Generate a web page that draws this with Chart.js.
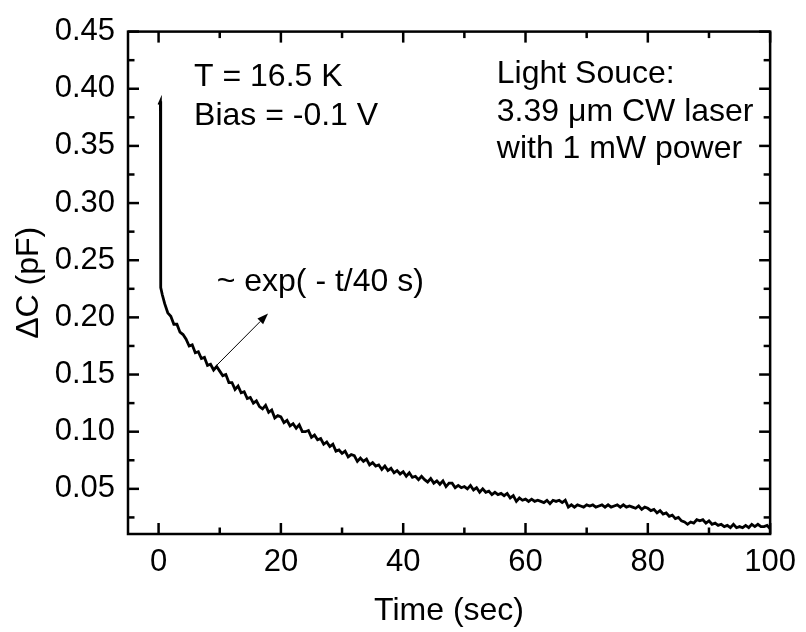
<!DOCTYPE html>
<html>
<head>
<meta charset="utf-8">
<script src="https://cdn.jsdelivr.net/npm/chart.js@4.4.1/dist/chart.umd.min.js"></script>
<style>
  body { margin: 0; background: #fff; }
  #wrap { width: 806px; height: 632px; }
</style>
</head>
<body>
<div id="wrap"><canvas id="myChart" width="806" height="632"></canvas></div>
<script>
const timeSec = [
  0.05, 0.3, 0.35, 0.6,
  1, 1.5, 2, 2.5, 3, 3.5, 4, 4.5, 5, 5.5,
  6, 6.5, 7, 7.5, 8, 8.5, 9, 9.5, 10, 10.5,
  11, 11.5, 12, 12.5, 13, 13.5, 14, 14.5, 15, 15.5,
  16, 16.5, 17, 17.5, 18, 18.5, 19, 19.5, 20, 20.5,
  21, 21.5, 22, 22.5, 23, 23.5, 24, 24.5, 25, 25.5,
  26, 26.5, 27, 27.5, 28, 28.5, 29, 29.5, 30, 30.5,
  31, 31.5, 32, 32.5, 33, 33.5, 34, 34.5, 35, 35.5,
  36, 36.5, 37, 37.5, 38, 38.5, 39, 39.5, 40, 40.5,
  41, 41.5, 42, 42.5, 43, 43.5, 44, 44.5, 45, 45.5,
  46, 46.5, 47, 47.5, 48, 48.5, 49, 49.5, 50, 50.5,
  51, 51.5, 52, 52.5, 53, 53.5, 54, 54.5, 55, 55.5,
  56, 56.5, 57, 57.5, 58, 58.5, 59, 59.5, 60, 60.5,
  61, 61.5, 62, 62.5, 63, 63.5, 64, 64.5, 65, 65.5,
  66, 66.5, 67, 67.5, 68, 68.5, 69, 69.5, 70, 70.5,
  71, 71.5, 72, 72.5, 73, 73.5, 74, 74.5, 75, 75.5,
  76, 76.5, 77, 77.5, 78, 78.5, 79, 79.5, 80, 80.5,
  81, 81.5, 82, 82.5, 83, 83.5, 84, 84.5, 85, 85.5,
  86, 86.5, 87, 87.5, 88, 88.5, 89, 89.5, 90, 90.5,
  91, 91.5, 92, 92.5, 93, 93.5, 94, 94.5, 95, 95.5,
  96, 96.5, 97, 97.5, 98, 98.5, 99, 99.5, 100
];

const deltaC = [
  0.386, 0.389, 0.226, 0.220,
  0.212, 0.204, 0.201, 0.194, 0.194, 0.187, 0.185, 0.181, 0.175, 0.176,
  0.169, 0.170, 0.164, 0.165, 0.158, 0.159, 0.154, 0.157, 0.153, 0.149,
  0.150, 0.143, 0.143, 0.137, 0.140, 0.134, 0.135, 0.129, 0.130, 0.125,
  0.127, 0.122, 0.120, 0.123, 0.117, 0.119, 0.112, 0.114, 0.113, 0.108,
  0.110, 0.105, 0.107, 0.103, 0.106, 0.100, 0.100, 0.101, 0.095, 0.097,
  0.093, 0.094, 0.089, 0.091, 0.087, 0.089, 0.083, 0.084, 0.081, 0.083,
  0.078, 0.080, 0.079, 0.074, 0.077, 0.074, 0.076, 0.071, 0.073, 0.070,
  0.071, 0.067, 0.070, 0.066, 0.068, 0.064, 0.066, 0.063, 0.065, 0.061,
  0.064, 0.060, 0.061, 0.058, 0.061, 0.058, 0.056, 0.059, 0.055, 0.057,
  0.054, 0.057, 0.052, 0.055, 0.055, 0.051, 0.053, 0.051, 0.052, 0.050,
  0.053, 0.049, 0.051, 0.047, 0.050, 0.047, 0.048, 0.045, 0.047, 0.045,
  0.046, 0.044, 0.046, 0.042, 0.044, 0.039, 0.042, 0.040, 0.041, 0.039,
  0.041, 0.039, 0.040, 0.039, 0.038, 0.040, 0.037, 0.040, 0.039, 0.040,
  0.038, 0.040, 0.034, 0.036, 0.034, 0.036, 0.035, 0.034, 0.036, 0.035,
  0.036, 0.034, 0.035, 0.036, 0.034, 0.036, 0.034, 0.035, 0.036, 0.034,
  0.036, 0.034, 0.035, 0.034, 0.033, 0.035, 0.032, 0.034, 0.033, 0.031,
  0.032, 0.029, 0.031, 0.028, 0.029, 0.026, 0.027, 0.024, 0.025, 0.022,
  0.021, 0.019, 0.021, 0.020, 0.023, 0.022, 0.023, 0.020, 0.022, 0.019,
  0.020, 0.018, 0.019, 0.017, 0.018, 0.016, 0.019, 0.016, 0.017, 0.016,
  0.018, 0.016, 0.019, 0.017, 0.019, 0.017, 0.017, 0.018, 0.015
];

const xMajor = [0, 20, 40, 60, 80, 100];
const xMinor = [10, 30, 50, 70, 90];
const yMajor = [0.05, 0.10, 0.15, 0.20, 0.25, 0.30, 0.35, 0.40, 0.45];
const yMinor = [0.025, 0.075, 0.125, 0.175, 0.225, 0.275, 0.325, 0.375, 0.425];

// text notes placed in data coordinates (left edge, baseline)
const notes = [
  { text: 'T = 16.5 K', x: 5.8, y: 0.4025 },
  { text: 'Bias = -0.1 V', x: 5.8, y: 0.3685 },
  { text: 'Light Souce:', x: 55.3, y: 0.4050 },
  { text: '3.39 \u03bcm CW laser', x: 55.3, y: 0.3716 },
  { text: 'with 1 mW power', x: 55.3, y: 0.3390 },
  { text: '~ exp( - t/40 s)', x: 9.5, y: 0.2227 }
];
const arrowFrom = { x: 9.3, y: 0.157 };
const arrowTo = { x: 17.9, y: 0.2033 };

const FONT = 'Liberation Sans, Arial, sans-serif';

const frameAndTicks = {
  id: 'frameAndTicks',
  afterDatasetsDraw(chart) {
    const { ctx, chartArea: a, scales: { x, y } } = chart;
    const line = (x1, y1, x2, y2) => {
      ctx.beginPath(); ctx.moveTo(x1, y1); ctx.lineTo(x2, y2); ctx.stroke();
    };
    ctx.save();
    ctx.strokeStyle = '#000';
    ctx.lineWidth = 2.5;
    ctx.lineCap = 'butt';
    ctx.strokeRect(a.left, a.top, a.right - a.left, a.bottom - a.top);
    const xt = (v, len) => {
      const p = x.getPixelForValue(v);
      line(p, a.bottom, p, a.bottom - len);
      line(p, a.top, p, a.top + len);
    };
    const yt = (v, len) => {
      const p = y.getPixelForValue(v);
      line(a.left, p, a.left + len, p);
      line(a.right, p, a.right - len, p);
    };
    xMajor.forEach(v => xt(v, 11));
    xMinor.forEach(v => xt(v, 6.5));
    yMajor.forEach(v => yt(v, 11));
    yMinor.forEach(v => yt(v, 6.5));
    ctx.restore();
  },
  afterDraw(chart) {
    const { ctx, scales: { x, y } } = chart;
    ctx.save();
    ctx.fillStyle = '#000';
    ctx.font = '32px ' + FONT;
    ctx.textAlign = 'left';
    ctx.textBaseline = 'alphabetic';
    notes.forEach(n => ctx.fillText(n.text, x.getPixelForValue(n.x), y.getPixelForValue(n.y)));

    const x0 = x.getPixelForValue(arrowFrom.x), y0 = y.getPixelForValue(arrowFrom.y);
    const x1 = x.getPixelForValue(arrowTo.x), y1 = y.getPixelForValue(arrowTo.y);
    const ang = Math.atan2(y1 - y0, x1 - x0);
    const head = 11, half = 4;
    ctx.strokeStyle = '#000';
    ctx.lineWidth = 1;
    ctx.beginPath();
    ctx.moveTo(x0, y0);
    ctx.lineTo(x1 - head * Math.cos(ang), y1 - head * Math.sin(ang));
    ctx.stroke();
    ctx.beginPath();
    ctx.moveTo(x1, y1);
    ctx.lineTo(x1 - head * Math.cos(ang) + half * Math.sin(ang), y1 - head * Math.sin(ang) - half * Math.cos(ang));
    ctx.lineTo(x1 - head * Math.cos(ang) - half * Math.sin(ang), y1 - head * Math.sin(ang) + half * Math.cos(ang));
    ctx.closePath();
    ctx.fill();
    ctx.restore();
  }
};

const tickFont = { family: FONT, size: 31 };
const titleFont = { family: FONT, size: 32 };

new Chart(document.getElementById('myChart'), {
  type: 'line',
  data: {
    datasets: [{
      data: timeSec.map((t, i) => ({ x: t, y: deltaC[i] })),
      borderColor: '#000',
      borderWidth: 2.8,
      pointRadius: 0,
      tension: 0,
      fill: false
    }]
  },
  options: {
    responsive: false,
    animation: false,
    devicePixelRatio: 1,
    layout: { padding: { top: 22, right: 28, left: 0, bottom: 0 } },
    plugins: { legend: { display: false }, tooltip: { enabled: false } },
    scales: {
      x: {
        type: 'linear',
        min: -5,
        max: 100,
        afterFit: s => { s.height = 98; },
        afterBuildTicks: s => { s.ticks = xMajor.map(v => ({ value: v })); },
        grid: { display: false, drawTicks: false },
        border: { display: false },
        ticks: { padding: 10, color: '#000', font: tickFont, maxRotation: 0, autoSkip: false, callback: v => String(v) },
        title: { display: true, text: 'Time (sec)', color: '#000', font: titleFont, padding: { top: 0, bottom: 2 } }
      },
      y: {
        type: 'linear',
        min: 0.0105,
        max: 0.45,
        afterFit: s => { s.width = 128; },
        afterBuildTicks: s => { s.ticks = yMajor.map(v => ({ value: v })); },
        grid: { display: false, drawTicks: false },
        border: { display: false },
        ticks: { padding: 13, color: '#000', font: tickFont, autoSkip: false, callback: v => v.toFixed(2) },
        title: { display: true, text: '\u0394C (pF)', color: '#000', font: titleFont, padding: { top: 10, bottom: 0 } }
      }
    }
  },
  plugins: [frameAndTicks]
});
</script>
</body>
</html>
